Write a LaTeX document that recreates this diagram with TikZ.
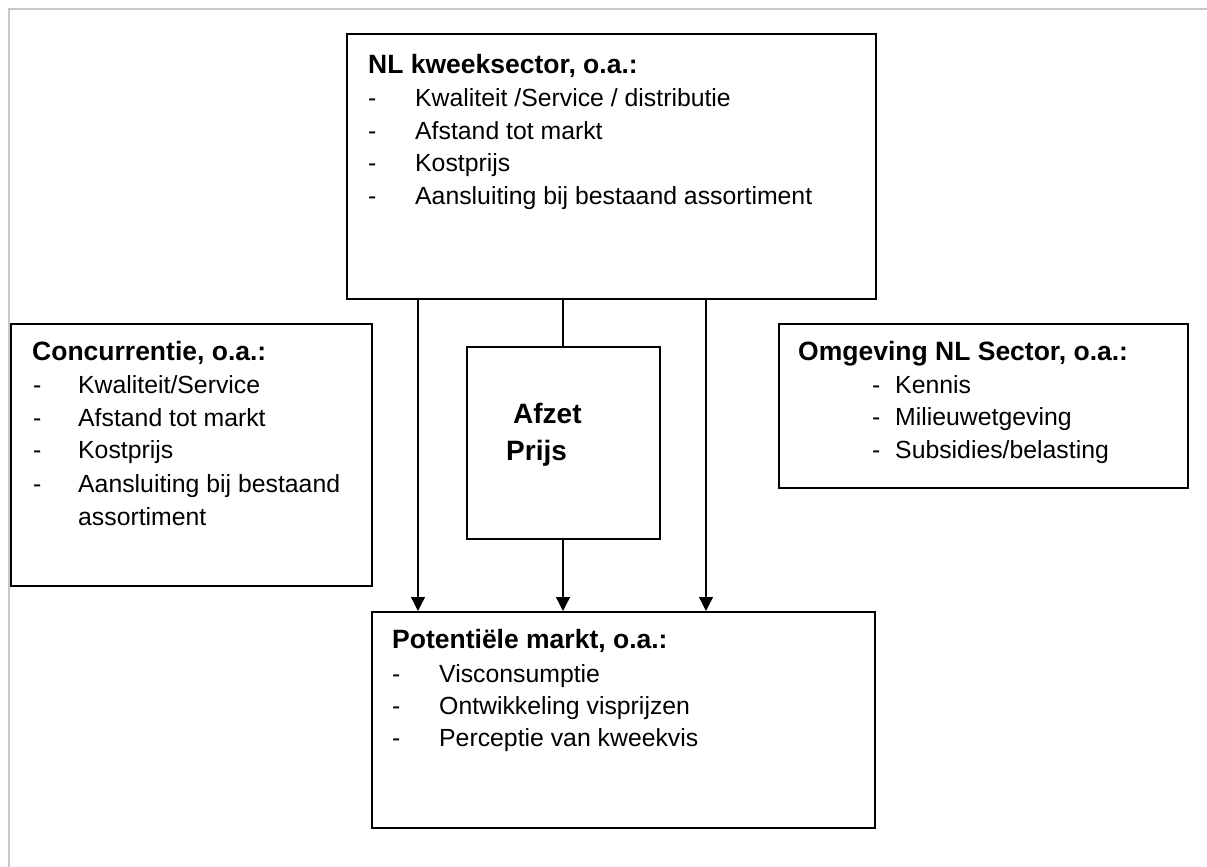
\documentclass[tikz,border=0pt]{standalone}
\usepackage{fontspec}
\setmainfont{Liberation Sans}
\usetikzlibrary{arrows.meta}
\definecolor{framegray}{HTML}{C8C8C8}
\tikzset{
  box/.style={draw=black, line width=1.6pt, fill=none, inner sep=0pt, anchor=north west},
  ttl/.style={anchor=base west, inner sep=0pt, font=\bfseries\fontsize{26.5}{30}\selectfont},
  itm/.style={anchor=base west, inner sep=0pt, font=\fontsize{24.8}{30}\selectfont},
  big/.style={anchor=base west, inner sep=0pt, font=\bfseries\fontsize{28}{32}\selectfont},
  conn/.style={draw=black, line width=1.3pt},
  arr/.style={conn, -{Triangle[length=14pt,width=14pt]}}
}
\begin{document}
\begin{tikzpicture}[x=1pt,y=-1pt]
\useasboundingbox (0,0) rectangle (1207,867);
% partial grey frame
\draw[framegray, line width=2pt] (9,867) -- (9,9) -- (1207,9);

% boxes
\node[box, minimum width=529pt, minimum height=265pt] (nl) at (346,33) {};
\node[box, minimum width=361pt, minimum height=262pt] (conc) at (10,323) {};
\node[box, minimum width=193pt, minimum height=192pt] (afzet) at (466,346) {};
\node[box, minimum width=409pt, minimum height=164pt] (omg) at (778,323) {};
\node[box, minimum width=503pt, minimum height=216pt] (pot) at (371,611) {};

% NL kweeksector
\node[ttl] (nlt) at (368,73.5) {NL kweeksector, o.a.:};
\node[itm] (nld1) at (368,106) {-};
\node[itm] (nl1) at (415,106) {Kwaliteit /Service / distributie};
\node[itm] (nld2) at (368,139) {-};
\node[itm] (nl2) at (415,139) {Afstand tot markt};
\node[itm] (nld3) at (368,171) {-};
\node[itm] (nl3) at (415,171) {Kostprijs};
\node[itm] (nld4) at (368,204) {-};
\node[itm] (nl4) at (415,204) {Aansluiting bij bestaand assortiment};

% Concurrentie
\node[ttl] (ct) at (32,360) {Concurrentie, o.a.:};
\node[itm] (cd1) at (33,393) {-};
\node[itm] (c1) at (78,393) {Kwaliteit/Service};
\node[itm] (cd2) at (33,426) {-};
\node[itm] (c2) at (78,426) {Afstand tot markt};
\node[itm] (cd3) at (33,458) {-};
\node[itm] (c3) at (78,458) {Kostprijs};
\node[itm] (cd4) at (33,492) {-};
\node[itm] (c4) at (78,492) {Aansluiting bij bestaand};
\node[itm] (c5) at (78,525) {assortiment};

% Afzet / Prijs
\node[big] (af) at (513,423) {Afzet};
\node[big] (pr) at (506,460) {Prijs};

% Omgeving
\node[ttl] (ot) at (798,360) {Omgeving NL Sector, o.a.:};
\node[itm] (od1) at (872,393) {-};
\node[itm] (o1) at (895,393) {Kennis};
\node[itm] (od2) at (872,425) {-};
\node[itm] (o2) at (895,425) {Milieuwetgeving};
\node[itm] (od3) at (872,458) {-};
\node[itm] (o3) at (895,458) {Subsidies/belasting};

% Potentiele markt
\node[ttl] (pt) at (392,648) {Potentiële markt, o.a.:};
\node[itm] (pd1) at (392,682) {-};
\node[itm] (p1) at (439,682) {Visconsumptie};
\node[itm] (pd2) at (392,714) {-};
\node[itm] (p2) at (439,714) {Ontwikkeling visprijzen};
\node[itm] (pd3) at (392,746) {-};
\node[itm] (p3) at (439,746) {Perceptie van kweekvis};

% connectors
\draw[arr] (418,0 |- nl.south) -- (418,0 |- pot.north);
\draw[conn] (563,0 |- nl.south) -- (563,0 |- afzet.north);
\draw[arr] (563,0 |- afzet.south) -- (563,0 |- pot.north);
\draw[arr] (706,0 |- nl.south) -- (706,0 |- pot.north);
\end{tikzpicture}
\end{document}
